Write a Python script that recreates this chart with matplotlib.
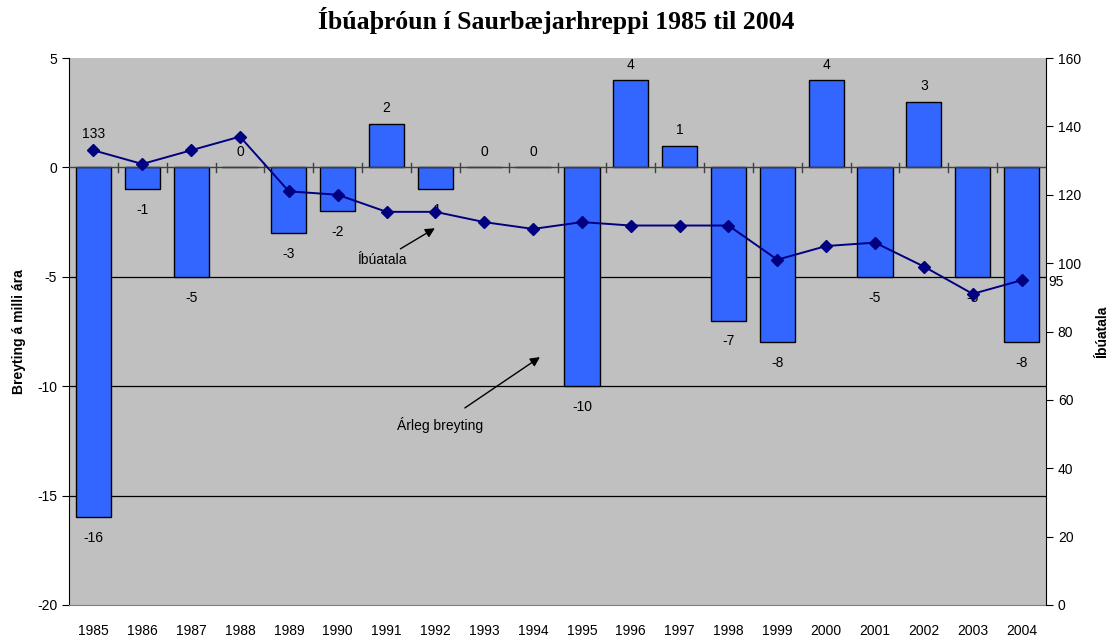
import matplotlib.pyplot as plt
import numpy as np

years = [str(y) for y in range(1985, 2005)]
breyting = [-16, -1, -5, 0, -3, -2, 2, -1, 0, 0, -10, 4, 1, -7, -8, 4, -5, 3, -5, -8]
ibuatala = [133, 129, 133, 137, 121, 120, 115, 115, 112, 110, 112, 111, 111, 111, 101, 105, 106, 99, 91, 95]

plt.rcParams["font.family"] = ["Liberation Sans", "DejaVu Sans"]
plt.rcParams["font.size"] = 10
plt.rcParams["axes.unicode_minus"] = False

fig = plt.figure(figsize=(11.12, 6.39), dpi=100)
ax = fig.add_axes([69 / 1112, 1 - 605 / 639, (1046 - 69) / 1112, (605 - 58) / 639])
ax.set_facecolor("#c0c0c0")

x = np.arange(len(years))
ax.set_xlim(-0.5, len(years) - 0.5)
ax.set_ylim(-20, 5)
ax.set_yticks(range(-20, 6, 5))
for g in (-15, -10, -5):
    ax.axhline(g, color="black", lw=0.9, zorder=1)

ax.bar(x, breyting, width=0.72, color="#3366ff", edgecolor="black", lw=1.0, zorder=2)

# category axis on the zero line with ticks between categories
ax.axhline(0, color="#404040", lw=1.0, zorder=3)
for b in np.arange(0.5, len(years) - 0.5, 1):
    ax.plot([b, b], [-0.22, 0.22], color="#404040", lw=1.0, zorder=3)

for xi, v in zip(x, breyting):
    if v < 0:
        ax.annotate(str(v), (xi, v), xytext=(0, -10), textcoords="offset points",
                    ha="center", va="top", fontsize=10, zorder=6)
    else:
        ax.annotate(str(v), (xi, v), xytext=(0, 6), textcoords="offset points",
                    ha="center", va="bottom", fontsize=10, zorder=6)

ax.set_xticks(x)
ax.set_xticklabels(years)
ax.tick_params(axis="x", length=0, pad=14)
ax.tick_params(axis="y", length=5, direction="out")
ax.set_ylabel("Breyting á milli ára", fontweight="bold", fontsize=10, labelpad=8)
for s in ("top", "right"):
    ax.spines[s].set_visible(False)
ax.spines["bottom"].set_color("#808080")

ax2 = ax.twinx()
ax2.set_ylim(0, 160)
ax2.set_yticks(range(0, 161, 20))
ax2.plot(x, ibuatala, color="#000080", marker="D", markersize=6, lw=1.4, zorder=5)
ax2.annotate(str(ibuatala[0]), (x[0], ibuatala[0]), xytext=(0, 7), textcoords="offset points",
             ha="center", va="bottom", fontsize=10)
ax2.annotate(str(ibuatala[-1]), (x[-1], ibuatala[-1]), xytext=(19, -1), textcoords="offset points",
             ha="left", va="center", fontsize=10)
ax2.tick_params(axis="y", length=5, direction="out")
ax2.set_ylabel("Íbúatala", fontweight="bold", fontsize=10, labelpad=10)
for s in ("top", "left"):
    ax2.spines[s].set_visible(False)
ax2.spines["bottom"].set_visible(False)

ax2.annotate("Íbúatala", xy=(6.99, 110.2), xytext=(5.9, 100.9), ha="center", va="center",
             fontsize=10, arrowprops=dict(arrowstyle="-|>", color="black", lw=1.0,
                                          mutation_scale=14, shrinkA=2, shrinkB=0))
ax.annotate("Árleg breyting", xy=(9.14, -8.67), xytext=(7.09, -11.77), ha="center", va="center",
            fontsize=10, arrowprops=dict(arrowstyle="-|>", color="black", lw=1.0,
                                         mutation_scale=14, shrinkA=8, shrinkB=0))

fig.text(0.5, 1 - 21 / 639, "Íbúaþróun í Saurbæjarhreppi 1985 til 2004", ha="center", va="center",
         fontsize=18.5, fontweight="bold", family=["Liberation Serif", "DejaVu Serif"])

fig.savefig("out.png", dpi=100)
